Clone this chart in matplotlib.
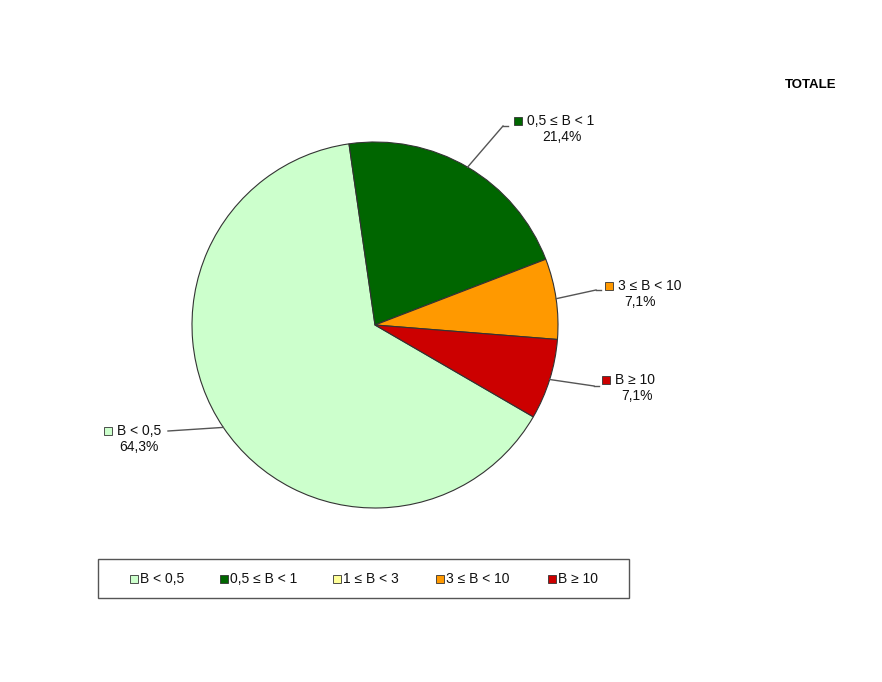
import matplotlib
matplotlib.use('Agg')
import numpy as np
import matplotlib.pyplot as plt
from matplotlib.patches import Rectangle

plt.rcParams['font.family'] = ['Liberation Sans', 'DejaVu Sans']

# dati
categorie = ['B < 0,5', '0,5 ≤ B < 1', '1 ≤ B < 3', '3 ≤ B < 10', 'B ≥ 10']
valori = [64.3, 21.4, 0.0, 7.1, 7.1]
colori = ['#CCFFCC', '#006600', '#FFFF99', '#FF9900', '#CC0000']
titolo = 'TOTALE'

W, H = 882, 682
fig = plt.figure(figsize=(W / 100, H / 100), dpi=100)
ax = fig.add_axes([0, 0, 1, 1])

def py(y):
    return H - y

cx, cy, r = 375, py(325), 183
start = 98.4 + 360 * valori[0] / 100.0

wedges, _ = ax.pie(valori, colors=colori, startangle=start, counterclock=False,
                   center=(cx, cy), radius=r, frame=True,
                   wedgeprops=dict(edgecolor='#333333', linewidth=0.8))
ax.set_xlim(0, W)
ax.set_ylim(0, H)
ax.set_aspect('equal')
ax.axis('off')

# etichette: (fine linea, marcatore, centro percentuale)
pos_etichette = {
    0: ((168, 431), (108, 431), 139),
    1: ((503, 126), (518, 121), 562),
    3: ((596, 290), (609, 286), 640),
    4: ((594, 386), (606, 380), 637),
}
fs = 10
for i, (anc, mk, pc) in pos_etichette.items():
    w = wedges[i]
    mid = np.deg2rad((w.theta1 + w.theta2) / 2)
    ex, ey = cx + r * np.cos(mid), cy + r * np.sin(mid)
    ax.plot([ex, anc[0]], [ey, py(anc[1])], color='#555555', lw=1.0)
    if i != 0:
        ax.plot([anc[0], anc[0] + 5], [py(anc[1])] * 2, color='#555555', lw=1.0)
    ax.add_patch(Rectangle((mk[0] - 4, py(mk[1]) - 4), 8, 8, facecolor=colori[i],
                           edgecolor='#333333', lw=0.6))
    ax.text(mk[0] + 9, py(mk[1]), categorie[i], fontsize=fs, va='center', ha='left',
            color='#111111')
    ax.text(pc, py(mk[1] + 16), f'{valori[i]:.1f}%'.replace('.', ','),
            fontsize=fs, va='center', ha='center', color='#111111')

ax.text(811, py(85), titolo, fontsize=9.5, fontweight='bold', ha='center', va='center')

# legenda
ax.add_patch(Rectangle((98, py(598)), 531, 39, facecolor='white', edgecolor='#555555', lw=1.0))
leg_x = [134, 224, 337, 440, 552]
for i, x in enumerate(leg_x):
    ax.add_patch(Rectangle((x - 4, py(579) - 4), 8, 8, facecolor=colori[i],
                           edgecolor='#333333', lw=0.6))
    ax.text(x + 6, py(579), categorie[i], fontsize=fs, va='center', ha='left', color='#111111')

fig.savefig('out.png', dpi=100)
